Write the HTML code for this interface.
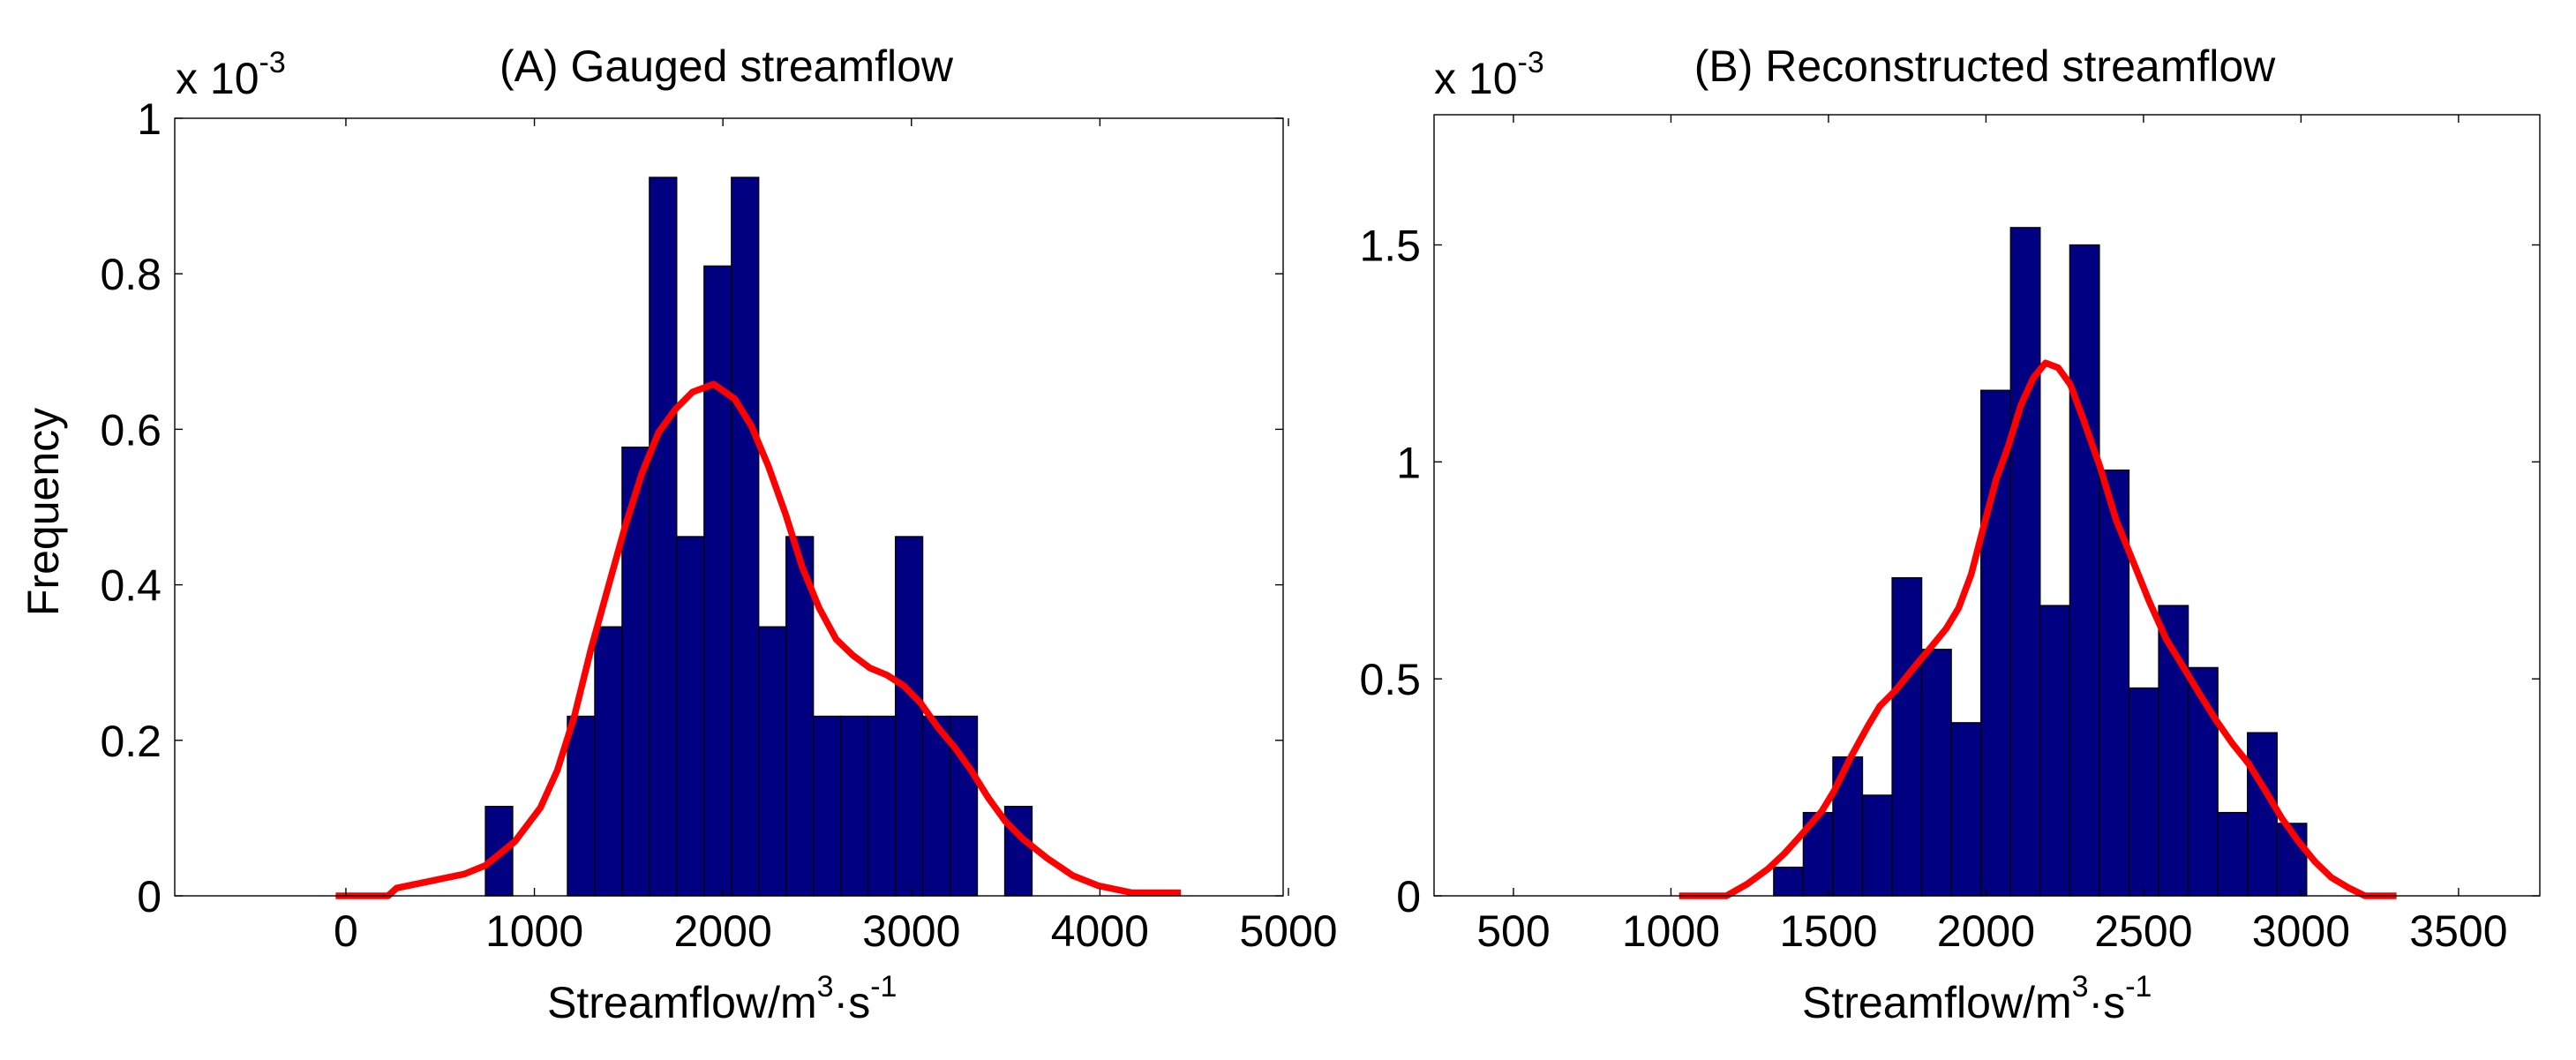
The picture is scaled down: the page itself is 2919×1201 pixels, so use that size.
<!DOCTYPE html>
<html><head><meta charset="utf-8"><style>
html,body{margin:0;padding:0;background:#fff;}
svg{display:block;font-family:"Liberation Sans",Arial,sans-serif;}
</style></head><body>
<svg id="chart" width="2919" height="1201" viewBox="0 0 2919 1201" xmlns="http://www.w3.org/2000/svg"></svg>
<script>
// Panel A data
const binsAStart = 740;
const binsAWidth = 145;
const freqA = [0.115,0,0,0.231,0.346,0.577,0.924,0.462,0.81,0.924,0.346,0.462,0.231,0.231,0.231,0.462,0.231,0.231,0,0.115];
const curveAX = [-54,224,269,448,628,740,897,1031,1121,1211,1300,1390,1480,1570,1659,1749,1839,1951,2063,2152,2242,2332,2422,2511,2601,2691,2780,2870,2960,3049,3139,3229,3318,3408,3498,3587,3722,3857,3991,4170,4430];
const curveAY = [0,0,0.01,0.019,0.028,0.039,0.07,0.113,0.161,0.23,0.317,0.396,0.474,0.543,0.596,0.626,0.648,0.658,0.639,0.604,0.552,0.491,0.422,0.37,0.33,0.309,0.293,0.284,0.27,0.248,0.217,0.191,0.161,0.126,0.096,0.074,0.048,0.026,0.013,0.004,0.004];
const xTicksA = [0,1000,2000,3000,4000,5000];
const yTicksA = [0,0.2,0.4,0.6,0.8,1];
const yTickLabelsA = ["0","0.2","0.4","0.6","0.8","1"];
// Panel B data
const binsBStart = 1326;
const binsBWidth = 94;
const freqB = [0.066,0.192,0.32,0.232,0.733,0.568,0.399,1.165,1.54,0.669,1.5,0.981,0.479,0.669,0.526,0.192,0.376,0.167];
const curveBX = [1026,1176,1242,1308,1361,1413,1479,1518,1571,1624,1663,1716,1768,1821,1874,1913,1953,1992,2032,2071,2111,2150,2189,2229,2268,2308,2361,2413,2466,2518,2571,2624,2676,2729,2782,2834,2887,2939,2992,3045,3097,3150,3203,3303];
const curveBY = [0,0,0.027,0.062,0.098,0.14,0.195,0.242,0.32,0.39,0.437,0.476,0.523,0.569,0.616,0.663,0.741,0.85,0.959,1.037,1.131,1.193,1.228,1.217,1.178,1.1,0.991,0.866,0.772,0.679,0.593,0.53,0.468,0.406,0.351,0.304,0.242,0.179,0.125,0.078,0.042,0.019,0,0];
const xTicksB = [500,1000,1500,2000,2500,3000,3500];
const yTicksB = [0,0.5,1,1.5];
const yTickLabelsB = ["0","0.5","1","1.5"];

const svg = document.getElementById('chart');
const NS = 'http://www.w3.org/2000/svg';
function mk(tag, attrs, parent){const e=document.createElementNS(NS,tag);for(const k in attrs)e.setAttribute(k,attrs[k]);(parent||svg).appendChild(e);return e;}

function panel(cfg){
  const g = mk('g',{});
  
  
  const sx = v => cfg.L + (v - cfg.xmin) / (cfg.xmax - cfg.xmin) * (cfg.R - cfg.L);
  const sy = v => cfg.B - (v - cfg.ymin) / (cfg.ymax - cfg.ymin) * (cfg.B - cfg.T);
  // bars
  cfg.freq.forEach((f,i)=>{
    if(f<=0) return;
    const x0 = sx(cfg.bStart + i*cfg.bW), x1 = sx(cfg.bStart + (i+1)*cfg.bW);
    const r = mk('rect',{x:x0,y:sy(f),width:x1-x0,height:sy(0)-sy(f),fill:'#000080',stroke:'#000','stroke-width':1.3},g);
    
    
  });
  // curve
  const d = cfg.cx.map((x,i)=>(i?'L':'M')+sx(x).toFixed(1)+' '+sy(cfg.cy[i]).toFixed(1)).join(' ');
  const p = mk('path',{d:d,fill:'none',stroke:'#ff0000','stroke-width':7.5,'stroke-linejoin':'round'},g);
  
  
  // axes box
  const box = mk('rect',{x:cfg.L,y:cfg.T,width:cfg.R-cfg.L,height:cfg.B-cfg.T,fill:'none',stroke:'#000','stroke-width':1.4},g);
  
  
  // x ticks
  cfg.xt.forEach(v=>{
    const x = sx(v);
    mk('line',{x1:x,y1:cfg.B,x2:x,y2:cfg.B-9,stroke:'#000','stroke-width':1.4},g);
    mk('line',{x1:x,y1:cfg.T,x2:x,y2:cfg.T+9,stroke:'#000','stroke-width':1.4},g);
    const t = mk('text',{x:x,y:1072,'font-size':50,'text-anchor':'middle',fill:'#000'},g);
    t.textContent = String(v);
    
    
  });
  cfg.yt.forEach((v,i)=>{
    const y = sy(v);
    mk('line',{x1:cfg.L,y1:y,x2:cfg.L+9,y2:y,stroke:'#000','stroke-width':1.4},g);
    mk('line',{x1:cfg.R,y1:y,x2:cfg.R-9,y2:y,stroke:'#000','stroke-width':1.4},g);
    const t = mk('text',{x:cfg.L-15,y:y+18,'font-size':50,'text-anchor':'end',fill:'#000'},g);
    t.textContent = cfg.ytl[i];
    
    
  });
}

panel({name:'panel-a',L:198,R:1454,T:134,B:1015,xmin:-908,xmax:4972,ymin:0,ymax:1,
  freq:freqA,bStart:binsAStart,bW:binsAWidth,cx:curveAX,cy:curveAY,xt:xTicksA,yt:yTicksA,ytl:yTickLabelsA});
panel({name:'panel-b',L:1625,R:2878,T:130,B:1015,xmin:248,xmax:3758,ymin:0,ymax:1.8,
  freq:freqB,bStart:binsBStart,bW:binsBWidth,cx:curveBX,cy:curveBY,xt:xTicksB,yt:yTicksB,ytl:yTickLabelsB});
</script>
<!-- static labels appended via SVG foreign markup below -->
<script>
const s2 = document.getElementById('chart');
s2.insertAdjacentHTML('beforeend', `
<text x="823" y="92" font-size="50" text-anchor="middle">(A) Gauged streamflow</text>
<text x="2249" y="92" font-size="50" text-anchor="middle">(B) Reconstructed streamflow</text>
<text x="199" y="106" font-size="50">x 10<tspan font-size="34" dy="-24">-3</tspan></text>
<text x="1625" y="106" font-size="50">x 10<tspan font-size="34" dy="-24">-3</tspan></text>
<text transform="translate(66,580) rotate(-90)" font-size="50" text-anchor="middle">Frequency</text>
<text x="620" y="1153" font-size="50">Streamflow/m<tspan font-size="34" dy="-24">3</tspan><tspan dy="24">·s</tspan><tspan font-size="34" dy="-24">-1</tspan></text>
<text x="2042" y="1153" font-size="50">Streamflow/m<tspan font-size="34" dy="-24">3</tspan><tspan dy="24">·s</tspan><tspan font-size="34" dy="-24">-1</tspan></text>
`);
</script>
</body></html>
